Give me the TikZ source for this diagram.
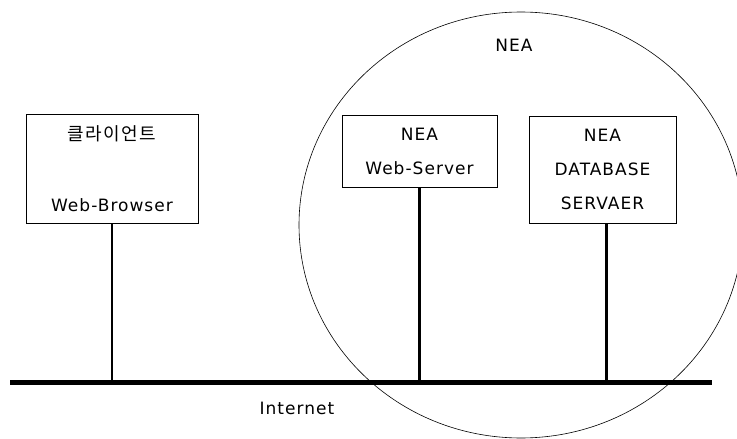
\documentclass[tikz,border=0pt]{standalone}
\usepackage{fontspec}
\setmainfont{DejaVu Sans}[LetterSpace=6]
\newfontfamily\krfont{Noto Sans CJK KR}[LetterSpace=8]
\usepackage{tikz}
\usetikzlibrary{positioning}
\tikzset{
  hostbox/.style={
    draw=black,
    line width=0.8pt,
    align=center,
    inner sep=0pt,
    font=\fontsize{17}{34}\selectfont
  },
  stemline/.style={
    line width=2.8pt,
    draw=black
  },
  netline/.style={
    line width=5pt,
    draw=black
  },
  zone/.style={
    draw=black,
    line width=0.6pt
  },
  plainlabel/.style={
    font=\fontsize{17}{20}\selectfont,
    inner sep=0pt
  }
}

\begin{document}
\begin{tikzpicture}[x=1pt,y=-1pt]
\useasboundingbox (0,0) rectangle (737,439);
\draw[zone] (521,225) ellipse [x radius=222pt, y radius=213pt];
\node[plainlabel] (nea) at (514,45) {NEA};
\node[hostbox, minimum width=172pt, minimum height=109pt] (client) at (112,168.5)
  {{\krfont\fontsize{18}{20}\selectfont 클라이언트}\\[37pt]Web-Browser};
\node[hostbox, minimum width=155pt, minimum height=72pt] (websrv) at (419.5,151)
  {NEA\\Web-Server};
\node[hostbox, minimum width=147pt, minimum height=107pt] (dbsrv) at (602.5,169.5)
  {NEA\\DATABASE\\SERVAER};
\coordinate (netL) at (10,382);
\coordinate (netR) at (712,382);
\draw[netline] (netL) -- (netR);
\draw[stemline] (client.south) -- (client.south |- netL);
\draw[stemline] (websrv.south) -- (websrv.south |- netL);
\draw[stemline] ([xshift=4pt]dbsrv.south) -- ([xshift=4pt]dbsrv.south |- netL);
\node[plainlabel] (inet) at (297,408) {Internet};
\end{tikzpicture}
\end{document}
